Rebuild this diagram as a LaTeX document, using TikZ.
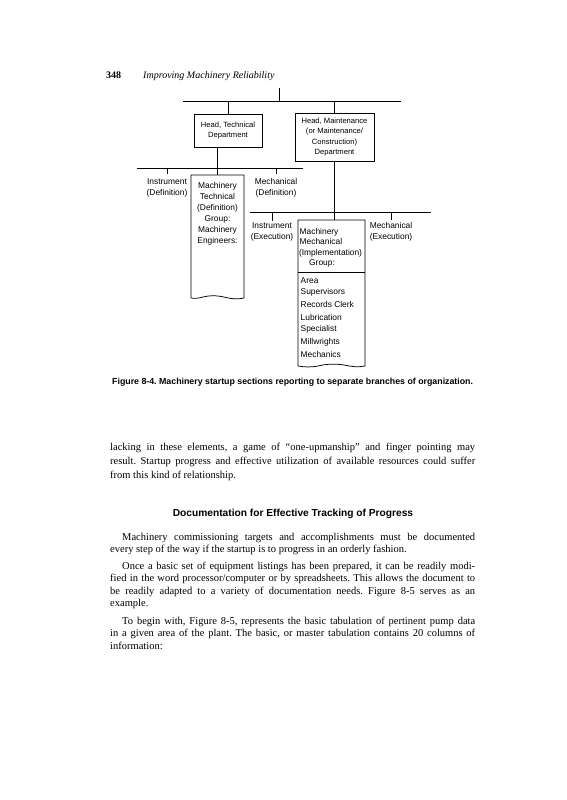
\documentclass[tikz,border=0pt]{standalone}
\usepackage{fontspec}
\setmainfont{Liberation Serif}
\newfontfamily\dsans{Liberation Sans}
\newcommand\fullline[1]{\makebox[365pt][s]{#1}}
\newcommand\indline[1]{\makebox[353pt][s]{#1}}
\frenchspacing
\begin{document}
\begin{tikzpicture}[x=1pt,y=-1pt,
  htext/.style={font=\dsans\fontsize{7.6}{10.3}\selectfont, inner sep=0pt, align=center},
  dtext/.style={font=\dsans\fontsize{8.4}{11}\selectfont, inner sep=0pt, align=center},
  dleft/.style={font=\dsans\fontsize{8.4}{11}\selectfont, inner sep=0pt, anchor=base west},
  ln/.style={line width=0.75pt},
  body/.style={font=\fontsize{10.5}{13}\selectfont, inner sep=0pt, anchor=base west}]
\useasboundingbox (0,0) rectangle (567,800);
\fill[white] (0,0) rectangle (567,800);

% running head
\node[anchor=base west, inner sep=0pt, font=\bfseries\fontsize{10}{12}\selectfont] (pnum) at (106,78) {348};
\node[anchor=base west, inner sep=0pt, font=\itshape\fontsize{10}{12}\selectfont] (rtitle) at (143,78) {Improving Machinery Reliability};

% top level
\coordinate (top) at (279,88);
\coordinate (bus1) at (279,101);
\coordinate (b1l) at (183,101);
\coordinate (b1r) at (401,101);
\node[draw, ln, minimum width=68pt, minimum height=33pt, htext] (ht) at (228,130.5) {Head, Technical\\Department};
\node[draw, ln, minimum width=79pt, minimum height=48pt, htext] (hm) at (334.5,137) {Head, Maintenance\\(or Maintenance/\\Construction)\\Department};
\draw[ln] (top) -- (bus1);
\draw[ln] (b1l) -- (b1r);
\draw[ln] (ht.north |- bus1) -- (ht.north);
\draw[ln] (hm.north |- bus1) -- (hm.north);

% technical branch
\coordinate (bus2) at (217.5,168);
\coordinate (b2l) at (137,168);
\coordinate (b2r) at (303,168);
\coordinate (mttop) at (217.5,175);
\draw[ln] (b2l) -- (b2r);
\draw[ln] (ht.south -| mttop) -- (mttop);
\node[dtext] (insd) at (167,188) {Instrument\\(Definition)};
\node[dtext] (mecd) at (276,188) {Mechanical\\(Definition)};
\draw[ln, shorten >=5pt] (insd.north |- bus2) -- (insd.north);
\draw[ln, shorten >=4pt] (mecd.north |- bus2) -- (mecd.north);
\node[dtext] (mtx) at (217.5,214) {Machinery\\Technical\\(Definition)\\Group:\\Machinery\\Engineers:};
\draw[ln] (191,298) -- (191,175) -- (244,175) -- (244,298)
  .. controls (238,299.5) and (232,299) .. (226,297.5)
  .. controls (218,295.5) and (210,295) .. (203,297)
  .. controls (198,298.5) and (194,298.5) .. (191,298);

% maintenance branch
\coordinate (bus3) at (334.5,212);
\coordinate (b3l) at (250,212);
\coordinate (b3r) at (431,212);
\coordinate (mmtop) at (334.5,220);
\draw[ln] (b3l) -- (b3r);
\draw[ln] (hm.south) -- (mmtop);
\node[dtext] (inse) at (272,232) {Instrument\\(Execution)};
\node[dtext] (mece) at (391,232) {Mechanical\\(Execution)};
\draw[ln, shorten >=2pt] (inse.north |- bus3) -- (inse.north);
\draw[ln, shorten >=2pt] (mece.north |- bus3) -- (mece.north);
\draw[ln] (298,366) -- (298,220) -- (365,220) -- (365,366)
  .. controls (358,367.5) and (351,366.5) .. (344,365)
  .. controls (335,363.5) and (326,364) .. (318,366)
  .. controls (311,367.5) and (304,367) .. (298,366);
\draw[ln] (298,272) -- (365,272);
\node[dleft] (mm1) at (299.5,234) {Machinery};
\node[dleft] (mm2) at (299.5,244.5) {Mechanical};
\node[dleft] (mm3) at (298.8,255) {(Implementation)};
\node[dleft] (mm4) at (309,265.5) {Group:};
\node[dleft] (it1) at (300.5,283) {Area};
\node[dleft] (it2) at (300.5,294) {Supervisors};
\node[dleft] (it3) at (300.5,307) {Records Clerk};
\node[dleft] (it4) at (300.5,320) {Lubrication};
\node[dleft] (it5) at (300.5,331) {Specialist};
\node[dleft] (it6) at (300.5,344) {Millwrights};
\node[dleft] (it7) at (300.5,357) {Mechanics};

% caption
\node[font=\dsans\bfseries\fontsize{8.8}{10}\selectfont, anchor=base west, inner sep=0pt] (cap) at (112,384) {Figure 8-4. Machinery startup sections reporting to separate branches of organization.};

% body text
\node[body] (l1) at (110,450) {\fullline{lacking in these elements, a game of ``one-upmanship'' and finger pointing may}};
\node[body] (l2) at (110,464) {\fullline{result. Startup progress and effective utilization of available resources could suffer}};
\node[body] (l3) at (110,478) {from this kind of relationship.};

\node[font=\dsans\bfseries\fontsize{10.2}{12}\selectfont, anchor=base, inner sep=0pt] (head) at (293,516) {Documentation for Effective Tracking of Progress};

\node[body] (p1) at (122,540) {\indline{Machinery commissioning targets and accomplishments must be documented}};
\node[body] (p2) at (110,552.5) {every step of the way if the startup is to progress in an orderly fashion.};

\node[body] (q1) at (122,569) {\indline{Once a basic set of equipment listings has been prepared, it can be readily modi-}};
\node[body] (q2) at (110,581.5) {\fullline{fied in the word processor/computer or by spreadsheets. This allows the document to}};
\node[body] (q3) at (110,594) {\fullline{be readily adapted to a variety of documentation needs. Figure 8-5 serves as an}};
\node[body] (q4) at (110,606.5) {example.};

\node[body] (r1) at (122,624) {\indline{To begin with, Figure 8-5, represents the basic tabulation of pertinent pump data}};
\node[body] (r2) at (110,636.5) {\fullline{in a given area of the plant. The basic, or master tabulation contains 20 columns of}};
\node[body] (r3) at (110,649) {information:};
\end{tikzpicture}
\end{document}
